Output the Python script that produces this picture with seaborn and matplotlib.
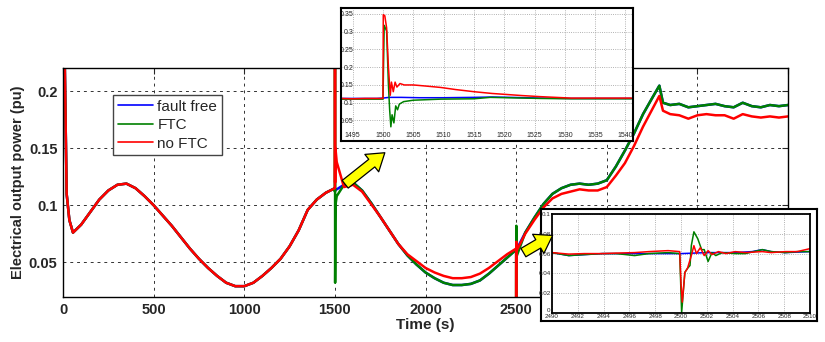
import numpy as np
import pandas as pd
import matplotlib
matplotlib.use('Agg')
import matplotlib.pyplot as plt
import seaborn as sb
from matplotlib.patches import FancyArrowPatch

# ---- main record (s, pu) ----
# before the fault at 1500 s all three runs are the same
t_pre = [0, 10, 20, 35, 55, 100, 150, 200, 250, 300, 350, 400, 450, 500, 550,
         600, 650, 700, 750, 800, 850, 900, 950, 1000, 1050, 1100, 1150, 1200,
         1250, 1300, 1350, 1400, 1450, 1499.9]
p_pre = [0.30, 0.22, 0.11, 0.087, 0.076, 0.083, 0.094, 0.105, 0.113, 0.118,
         0.119, 0.115, 0.108, 0.100, 0.091, 0.082, 0.072, 0.062, 0.053, 0.045,
         0.038, 0.032, 0.029, 0.029, 0.032, 0.038, 0.045, 0.053, 0.064, 0.078,
         0.096, 0.105, 0.111, 0.115]

t_post = [1500.0, 1500.3, 1500.6, 1501.2, 1501.7, 1502.3, 1503, 1510,
          1550, 1600, 1650, 1700, 1750, 1800, 1850, 1900, 1950, 2000, 2050,
          2100, 2150, 2200, 2250, 2300, 2350, 2400, 2450,
          2499.9, 2500.05, 2500.3, 2501, 2502,
          2550, 2600, 2650, 2700, 2750, 2800, 2850, 2900, 2950, 3000, 3050,
          3100, 3150, 3200, 3250, 3290, 3310,
          3350, 3400, 3450, 3500, 3550, 3600, 3650, 3700, 3750, 3800, 3850,
          3900, 3950, 4000]
p_fault_free = [0.113, 0.113, 0.113, 0.114, 0.114, 0.114, 0.114, 0.114,
                0.118, 0.120, 0.113, 0.102, 0.090, 0.078, 0.066, 0.056, 0.048,
                0.041, 0.036, 0.032, 0.030, 0.030, 0.031, 0.034, 0.040, 0.047,
                0.054,
                0.061, 0.061, 0.061, 0.061, 0.061,
                0.076, 0.089, 0.101, 0.110, 0.115, 0.118, 0.119, 0.118, 0.119,
                0.122, 0.134, 0.148, 0.163, 0.180, 0.194, 0.205, 0.190,
                0.188, 0.189, 0.186, 0.187, 0.188, 0.189, 0.187, 0.186, 0.190,
                0.187, 0.186, 0.188, 0.187, 0.188]
p_ftc = [0.112, 0.31, 0.30, 0.032, 0.045, 0.085, 0.100, 0.108,
         0.118, 0.120, 0.113, 0.102, 0.090, 0.078, 0.066, 0.056, 0.048,
         0.041, 0.036, 0.032, 0.030, 0.030, 0.031, 0.034, 0.040, 0.047,
         0.054,
         0.061, 0.001, 0.043, 0.082, 0.055,
         0.076, 0.089, 0.101, 0.110, 0.115, 0.118, 0.119, 0.118, 0.119,
         0.122, 0.134, 0.148, 0.163, 0.180, 0.194, 0.205, 0.190,
         0.188, 0.189, 0.186, 0.187, 0.188, 0.189, 0.187, 0.186, 0.190,
         0.187, 0.186, 0.188, 0.187, 0.188]
p_no_ftc = [0.115, 0.35, 0.31, 0.12, 0.135, 0.145, 0.150, 0.138,
            0.116, 0.118, 0.112, 0.101, 0.090, 0.078, 0.066, 0.057, 0.051,
            0.045, 0.041, 0.038, 0.036, 0.036, 0.037, 0.040, 0.045, 0.051,
            0.057,
            0.062, 0.011, 0.041, 0.068, 0.060,
            0.075, 0.087, 0.098, 0.106, 0.110, 0.112, 0.114, 0.113, 0.113,
            0.116, 0.126, 0.137, 0.152, 0.169, 0.184, 0.196, 0.183,
            0.180, 0.179, 0.176, 0.179, 0.180, 0.179, 0.179, 0.176, 0.180,
            0.178, 0.177, 0.178, 0.177, 0.178]

# ---- zoom around the 1500 s fault ----
z1_t_ff = [1493, 1499, 1500.0, 1501, 1503, 1506, 1510, 1515, 1518, 1521,
           1526, 1531, 1536, 1541]
z1_ff = [0.112, 0.112, 0.113, 0.115, 0.115, 0.114, 0.114, 0.115, 0.116,
         0.115, 0.113, 0.112, 0.112, 0.112]
z1_t_ftc = [1493, 1496, 1499, 1500.0, 1500.2, 1500.6, 1500.9, 1501.1, 1501.3,
            1501.5, 1501.8, 1502.1, 1502.4, 1502.7, 1503.4, 1505, 1509.5,
            1515, 1517.7, 1520.5, 1526, 1531, 1536, 1541]
z1_ftc = [0.110, 0.110, 0.110, 0.110, 0.318, 0.302, 0.150, 0.080, 0.032,
          0.066, 0.043, 0.091, 0.080, 0.096, 0.103, 0.107, 0.110, 0.111,
          0.115, 0.114, 0.112, 0.111, 0.111, 0.111]
z1_t_noftc = [1493, 1495, 1497, 1499, 1500.0, 1500.05, 1500.3, 1500.6, 1500.9,
              1501.2, 1501.4, 1501.7, 1502.0, 1502.3, 1502.8, 1503.5, 1505,
              1507, 1509.5, 1512, 1515, 1518, 1520.5, 1523, 1526, 1531, 1536,
              1541]
z1_noftc = [0.112, 0.111, 0.112, 0.112, 0.112, 0.348, 0.345, 0.311, 0.200,
            0.121, 0.158, 0.131, 0.158, 0.144, 0.154, 0.150, 0.150, 0.147,
            0.143, 0.137, 0.131, 0.126, 0.123, 0.120, 0.117, 0.113, 0.113,
            0.113]

# ---- zoom around the 2500 s fault ----
z2_t_ff = [2490, 2491.3, 2493.9, 2496.4, 2499.0, 2500, 2502, 2504.2, 2505.5,
           2506.3, 2507, 2508.1, 2510]
z2_ff = [0.061, 0.058, 0.060, 0.060, 0.060, 0.060, 0.061, 0.061, 0.062,
         0.064, 0.062, 0.061, 0.062]
z2_t_ftc = [2490, 2491.3, 2492.5, 2493.9, 2495, 2496.4, 2497.5, 2499.0,
            2499.9, 2500.05, 2500.3, 2500.5, 2500.7, 2500.8, 2501.0, 2501.3,
            2501.6, 2501.8, 2502.1, 2502.4, 2502.7, 2503.2, 2504.2, 2505,
            2506.3, 2507, 2508.1, 2509, 2510]
z2_ftc = [0.061, 0.058, 0.059, 0.060, 0.060, 0.058, 0.060, 0.061, 0.060,
          0.0005, 0.041, 0.045, 0.048, 0.068, 0.082, 0.075, 0.064, 0.064,
          0.052, 0.061, 0.058, 0.061, 0.060, 0.060, 0.064, 0.062, 0.061,
          0.062, 0.062]
z2_t_noftc = [2490, 2491.3, 2492.5, 2493.9, 2495, 2496.4, 2497.5, 2499.0,
              2499.9, 2500.0, 2500.1, 2500.3, 2500.5, 2500.8, 2501.0, 2501.2,
              2501.5, 2501.8, 2502.1, 2502.4, 2502.9, 2503.5, 2504.2, 2505,
              2506.3, 2507, 2508.1, 2509, 2510]
z2_noftc = [0.061, 0.0595, 0.060, 0.060, 0.0605, 0.061, 0.062, 0.063, 0.062,
            0.030, 0.011, 0.041, 0.045, 0.058, 0.068, 0.060, 0.066, 0.058,
            0.063, 0.059, 0.062, 0.060, 0.062, 0.061, 0.062, 0.061, 0.062,
            0.062, 0.065]

names = ['fault free', 'FTC', 'no FTC']
colors = ['#0000ff', '#008000', '#ff0000']
x_ticks = [0, 500, 1000, 1500, 2000, 2500, 3000, 3500, 4000]
# labels from 3000 on sit under the second inset box in the original
x_tick_labels = ['0', '500', '1000', '1500', '2000', '2500', '', '', '']
y_ticks = [0.05, 0.1, 0.15, 0.2]
y_tick_labels = ['0.05', '0.1', '0.15', '0.2']

sb.set_style('white')
plt.rcParams['font.family'] = ['Liberation Sans', 'DejaVu Sans']

fig = plt.figure(figsize=(8.25, 3.42), dpi=100)

#main axes
ax = fig.add_axes([0.0764, 0.1316, 0.8788, 0.6696])
df = pd.DataFrame({'t': t_pre + t_post,
                   'fault free': p_pre + p_fault_free,
                   'FTC': p_pre + p_ftc,
                   'no FTC': p_pre + p_no_ftc})
for name, col in zip(names, colors):
    sb.lineplot(data=df, x='t', y=name, ax=ax, color=col, lw=1.8,
                label=name, estimator=None, sort=False)
ax.set_xlim(0, 4000)
ax.set_ylim(0.0195, 0.2205)
ax.set_xticks(x_ticks)
ax.set_xticklabels(x_tick_labels, fontweight='bold', fontsize=10.5)
ax.set_yticks(y_ticks)
ax.set_yticklabels(y_tick_labels, fontweight='bold', fontsize=10.5)
ax.tick_params(direction='in', length=4, top=True, right=True, pad=4)
ax.set_xlabel('Time (s)', fontweight='bold', fontsize=11, labelpad=1)
ax.set_ylabel('Electrical output power (pu)', fontweight='bold', fontsize=10.5,
              labelpad=3)
ax.grid(True, ls=(0, (3, 4)), color='#333333', lw=0.7)
for s in ax.spines.values():
    s.set_color('black')
    s.set_linewidth(1.0)
leg = ax.legend(loc='upper left', bbox_to_anchor=(0.069, 0.882),
                borderaxespad=0, fancybox=False, edgecolor='#444444',
                framealpha=1, fontsize=11, handlelength=2.3,
                handletextpad=0.3, labelspacing=0.3, borderpad=0.3)
leg.get_frame().set_linewidth(1.0)
for line in leg.get_lines():
    line.set_linewidth(1.2)

#inset for the first fault, tick labels drawn inside the frame
ax1 = fig.add_axes([0.4133, 0.5877, 0.354, 0.389], zorder=5)
for tt, vv, col in zip([z1_t_ff, z1_t_ftc, z1_t_noftc],
                       [z1_ff, z1_ftc, z1_noftc], colors):
    sb.lineplot(x=tt, y=vv, ax=ax1, color=col, lw=1.1, estimator=None,
                sort=False)
ax1.set_xlim(1493.07, 1541.25)
ax1.set_ylim(-0.008, 0.367)
ax1.set_xticks(list(range(1495, 1541, 5)))
ax1.set_yticks([0.05, 0.1, 0.15, 0.2, 0.25, 0.3, 0.35])
ax1.set_yticklabels(['0.05', '0.1', '0.15', '0.2', '0.25', '0.3', '0.35'])
ax1.tick_params(axis='y', direction='in', length=2, labelsize=5, pad=-9)
ax1.tick_params(axis='x', direction='in', length=2, labelsize=5, pad=-6.5)
ax1.grid(True, ls=':', color='#999999', lw=0.6)
for s in ax1.spines.values():
    s.set_color('black')
    s.set_linewidth(1.5)

#inset for the second fault: white box with axes inside
box = fig.add_axes([0.6558, 0.0614, 0.3345, 0.3275], zorder=4)
box.set_xticks([])
box.set_yticks([])
box.set_facecolor('white')
for s in box.spines.values():
    s.set_color('black')
    s.set_linewidth(1.5)

ax2 = fig.add_axes([0.6691, 0.0848, 0.3127, 0.2895], zorder=5)
for tt, vv, col in zip([z2_t_ff, z2_t_ftc, z2_t_noftc],
                       [z2_ff, z2_ftc, z2_noftc], colors):
    sb.lineplot(x=tt, y=vv, ax=ax2, color=col, lw=1.1, estimator=None,
                sort=False)
ax2.set_xlim(2490, 2510)
ax2.set_ylim(0, 0.1)
ax2.set_xticks(list(range(2490, 2511, 2)))
ax2.set_yticks([0, 0.02, 0.04, 0.06, 0.08, 0.1])
ax2.set_yticklabels(['0', '0.02', '0.04', '0.06', '0.08', '0.1'])
ax2.tick_params(direction='in', length=2, labelsize=4.5, pad=1)
ax2.get_yticklabels()[0].set_verticalalignment('bottom')
ax2.grid(True, ls=':', color='#999999', lw=0.6)
for s in ax2.spines.values():
    s.set_color('black')
    s.set_linewidth(1.3)

#yellow pointer arrows
arrow_style = 'simple,head_length=1.2,head_width=1.6,tail_width=0.7'
for a, b in [((343, 186), (387, 151)), ((521, 254), (555, 234))]:
    arr = FancyArrowPatch((a[0] / 825, 1 - a[1] / 342),
                          (b[0] / 825, 1 - b[1] / 342),
                          transform=fig.transFigure, arrowstyle=arrow_style,
                          mutation_scale=10, fc='#ffff00', ec='black',
                          lw=0.9, zorder=10)
    fig.patches.append(arr)

plt.savefig('out.png', dpi=100)
